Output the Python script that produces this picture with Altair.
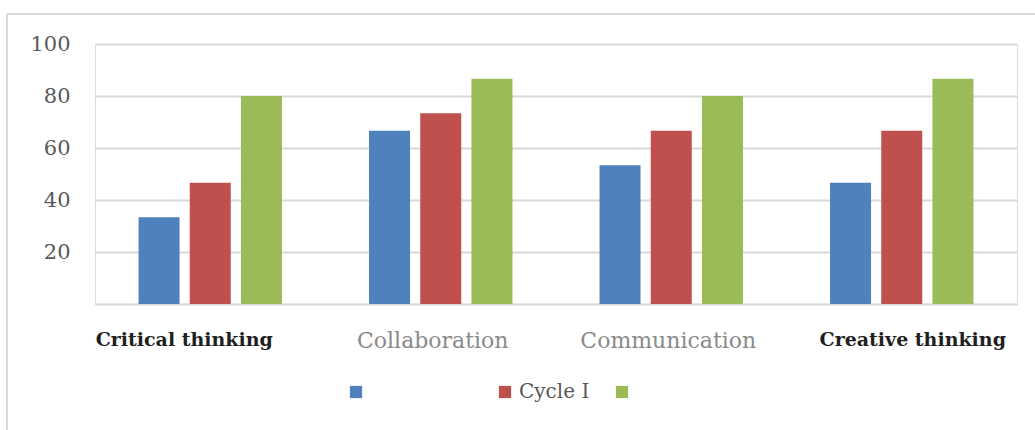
import altair as alt
import pandas as pd

categories = ["Critical thinking", "Collaboration", "Communication", "Creative thinking"]
series = ["Pre-cycle", "Cycle I", "Cycle II"]
pre_cycle = [33.33, 66.67, 53.33, 46.67]
cycle_1 = [46.67, 73.33, 66.67, 66.67]
cycle_2 = [80.0, 86.67, 80.0, 86.67]
colors = ["#4F81BD", "#C0504D", "#9BBB59"]

rows = []
for s, vals in zip(series, [pre_cycle, cycle_1, cycle_2]):
    for c, v in zip(categories, vals):
        rows.append({"category": c, "series": s, "value": v})
df = pd.DataFrame(rows)

FONT = "DejaVu Serif"
blank = "\u2800" * 7
light_test = "datum.value == 'Collaboration' || datum.value == 'Communication'"

label_offset = {
    "condition": [
        {"test": "datum.value == 'Critical thinking'", "value": -26},
        {"test": "datum.value == 'Collaboration'", "value": -8},
        {"test": "datum.value == 'Communication'", "value": -3},
    ],
    "value": 11,
}

bars = alt.Chart(df).mark_bar(size=41).encode(
    x=alt.X("category:N", sort=categories,
            scale=alt.Scale(paddingInner=0.378, paddingOuter=0.189),
            axis=alt.Axis(title=None, labelAngle=0, ticks=False, labelLimit=400,
                          domainColor="#d9d9d9", domainWidth=1.5,
                          labelFont=FONT, labelPadding=26,
                          labelOffset=label_offset,
                          labelFontSize={"condition": {"test": light_test, "value": 22}, "value": 19},
                          labelColor={"condition": {"test": light_test, "value": "#8a8a8a"}, "value": "#1f1f1f"},
                          labelFontWeight={"condition": {"test": light_test, "value": "normal"}, "value": "bold"})),
    xOffset=alt.XOffset("series:N", sort=series,
                        scale=alt.Scale(paddingInner=0.2, paddingOuter=0)),
    y=alt.Y("value:Q", scale=alt.Scale(domain=[0, 100]),
            axis=alt.Axis(title=None, values=[0, 20, 40, 60, 80, 100], ticks=False,
                          domain=False, gridColor="#d9d9d9", gridWidth=2,
                          labelFont=FONT, labelFontSize=21, labelColor="#595959",
                          labelPadding=25,
                          labelExpr="datum.value == 0 ? '' : datum.label")),
    color=alt.Color("series:N", sort=series,
                    scale=alt.Scale(domain=series, range=colors),
                    legend=alt.Legend(title=None, orient="none", direction="horizontal",
                                      legendX=251, legendY=338,
                                      symbolType="square", symbolSize=150,
                                      symbolStrokeWidth=0, labelFont=FONT,
                                      labelFontSize=20, labelColor="#595959",
                                      labelOffset=4, columnPadding=22,
                                      labelExpr="datum.label == 'Cycle I' ? 'Cycle I' : (datum.label == 'Pre-cycle' ? '" + blank + "' : '')")),
)

border_left = alt.Chart(df).mark_rule(color="#d9d9d9", strokeWidth=1.5).encode(
    x=alt.value(-88), y=alt.value(-30), y2=alt.value(390))
border_top = alt.Chart(df).mark_rule(color="#d9d9d9", strokeWidth=1.5).encode(
    x=alt.value(-88), x2=alt.value(945), y=alt.value(-30))

chart = alt.layer(bars, border_left, border_top).properties(
    width=922, height=260,
    autosize=alt.AutoSizeParams(type="none"),
    padding={"left": 95, "top": 44, "right": 18, "bottom": 126},
).configure_view(stroke=None).configure(background="white")

chart.save("out.html", embed_options={"renderer": "svg", "actions": False})
